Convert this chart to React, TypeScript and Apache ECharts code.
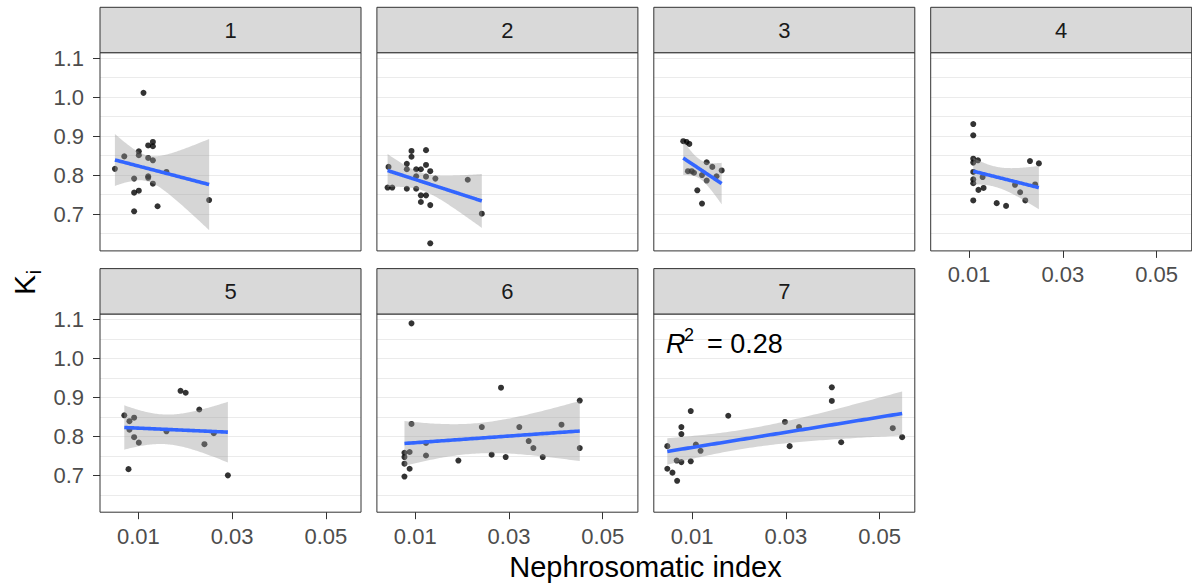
import React, { useEffect, useRef } from "react";
import * as echarts from "echarts";

// ---------- data ----------
const panelLabels = ["1", "2", "3", "4", "5", "6", "7"];
const xTicks = [0.01, 0.03, 0.05];
const yTicks = [0.7, 0.8, 0.9, 1.0, 1.1];
const yGridLines = [0.65, 0.7, 0.75, 0.8, 0.85, 0.9, 0.95, 1.0, 1.05, 1.1];
const xTitle = "Nephrosomatic index";
const yTitleMain = "K";
const yTitleSub = "i";
const r2Value = "0.28";

const x1 = [0.0050, 0.0070, 0.0091, 0.0101, 0.0101, 0.0111, 0.0091, 0.0101, 0.0091, 0.0121, 0.0131, 0.0131, 0.0121, 0.0131, 0.0121, 0.0131, 0.0141, 0.0160, 0.0251, 0.0121];
const y1 = [0.816, 0.848, 0.791, 0.861, 0.851, 1.011, 0.755, 0.760, 0.707, 0.876, 0.885, 0.874, 0.844, 0.838, 0.797, 0.778, 0.720, 0.808, 0.736, 0.793];

const x2 = [0.0043, 0.0041, 0.0051, 0.0082, 0.0082, 0.0092, 0.0092, 0.0123, 0.0123, 0.0102, 0.0112, 0.0132, 0.0102, 0.0123, 0.0143, 0.0212, 0.0082, 0.0102, 0.0112, 0.0123, 0.0112, 0.0132, 0.0242, 0.0132];
const y2 = [0.821, 0.768, 0.768, 0.829, 0.815, 0.862, 0.847, 0.864, 0.826, 0.815, 0.815, 0.810, 0.797, 0.796, 0.791, 0.788, 0.765, 0.765, 0.748, 0.748, 0.731, 0.723, 0.701, 0.625];

const x3 = [0.0081, 0.0088, 0.0094, 0.0131, 0.0143, 0.0163, 0.0091, 0.0099, 0.0104, 0.0121, 0.0131, 0.0152, 0.0111, 0.0121];
const y3 = [0.887, 0.885, 0.880, 0.833, 0.821, 0.812, 0.810, 0.810, 0.806, 0.800, 0.786, 0.797, 0.761, 0.727];

const x4 = [0.0109, 0.0109, 0.0109, 0.0119, 0.0109, 0.0109, 0.0109, 0.0109, 0.0129, 0.0131, 0.0120, 0.0109, 0.0159, 0.0179, 0.0198, 0.0209, 0.0220, 0.0230, 0.0249, 0.0241];
const y4 = [0.931, 0.902, 0.842, 0.838, 0.832, 0.808, 0.789, 0.779, 0.795, 0.767, 0.762, 0.735, 0.728, 0.721, 0.775, 0.756, 0.735, 0.836, 0.830, 0.776];

const x5 = [0.0070, 0.0081, 0.0091, 0.0081, 0.0091, 0.0101, 0.0079, 0.0160, 0.0190, 0.0201, 0.0230, 0.0241, 0.0261, 0.0291];
const y5 = [0.854, 0.839, 0.848, 0.817, 0.798, 0.784, 0.716, 0.813, 0.917, 0.912, 0.869, 0.780, 0.808, 0.700];

const x6 = [0.0092, 0.0283, 0.0451, 0.0092, 0.0242, 0.0322, 0.0412, 0.0342, 0.0352, 0.0451, 0.0077, 0.0088, 0.0077, 0.0077, 0.0088, 0.0077, 0.0123, 0.0123, 0.0192, 0.0263, 0.0293, 0.0372];
const y6 = [1.090, 0.925, 0.892, 0.832, 0.824, 0.824, 0.830, 0.788, 0.770, 0.770, 0.758, 0.760, 0.747, 0.730, 0.717, 0.697, 0.751, 0.783, 0.738, 0.753, 0.747, 0.747];

const x7 = [0.0047, 0.0047, 0.0058, 0.0068, 0.0067, 0.0077, 0.0077, 0.0077, 0.0097, 0.0097, 0.0108, 0.0118, 0.0177, 0.0298, 0.0308, 0.0328, 0.0398, 0.0398, 0.0418, 0.0528, 0.0548];
const y7 = [0.775, 0.717, 0.707, 0.686, 0.738, 0.734, 0.824, 0.806, 0.865, 0.736, 0.779, 0.763, 0.853, 0.837, 0.775, 0.824, 0.926, 0.891, 0.785, 0.821, 0.798];

const panelXs = [x1, x2, x3, x4, x5, x6, x7];
const panelYs = [y1, y2, y3, y4, y5, y6, y7];

// ---------- layout ----------
const colLeft = [100, 376.9, 653.8, 930.7];
const rowTop = [52.7, 314];
const panelW = 261;
const panelH = 198.2;
const stripH = 45.4;
const X_MIN = 0.00182;
const X_MAX = 0.0575;
const Y_MIN = 0.6055;
const Y_MAX = 1.114;
const FONT = "'Liberation Sans', Arial, Helvetica, sans-serif";

// t quantile (0.975) via Cornish-Fisher expansion
function tQuantile975(df: number): number {
  const z = 1.959964;
  const g1 = (z ** 3 + z) / 4;
  const g2 = (5 * z ** 5 + 16 * z ** 3 + 3 * z) / 96;
  const g3 = (3 * z ** 7 + 19 * z ** 5 + 17 * z ** 3 - 15 * z) / 384;
  const g4 = (79 * z ** 9 + 776 * z ** 7 + 1482 * z ** 5 - 1920 * z ** 3 - 945 * z) / 92160;
  return z + g1 / df + g2 / df ** 2 + g3 / df ** 3 + g4 / df ** 4;
}

// linear model fit with 95% confidence band (like geom_smooth(method = "lm"))
function lmFit(xs: number[], ys: number[]) {
  const n = xs.length;
  const mx = xs.reduce((a, b) => a + b, 0) / n;
  const my = ys.reduce((a, b) => a + b, 0) / n;
  let sxx = 0, sxy = 0;
  for (let i = 0; i < n; i++) {
    sxx += (xs[i] - mx) ** 2;
    sxy += (xs[i] - mx) * (ys[i] - my);
  }
  const b = sxy / sxx;
  const a = my - b * mx;
  let ssr = 0;
  for (let i = 0; i < n; i++) ssr += (ys[i] - a - b * xs[i]) ** 2;
  const s = Math.sqrt(ssr / (n - 2));
  const t = tQuantile975(n - 2);
  const xmin = Math.min(...xs);
  const xmax = Math.max(...xs);
  const steps = 80;
  const band: number[][] = [];
  const line: number[][] = [];
  for (let k = 0; k <= steps; k++) {
    const x = xmin + ((xmax - xmin) * k) / steps;
    const yh = a + b * x;
    const se = s * Math.sqrt(1 / n + (x - mx) ** 2 / sxx);
    band.push([x, yh - t * se, yh + t * se]);
    line.push([x, yh]);
  }
  return { band, line };
}

function buildOption() {
  const grid: any[] = [];
  const xAxis: any[] = [];
  const yAxis: any[] = [];
  const series: any[] = [];
  const graphic: any[] = [];

  for (let i = 0; i < 7; i++) {
    const row = i < 4 ? 0 : 1;
    const col = i < 4 ? i : i - 4;
    const left = colLeft[col];
    const top = rowTop[row];
    const showX = i >= 3;
    const showY = col === 0;

    grid.push({ left, top, width: panelW, height: panelH, show: false, containLabel: false, outerBoundsMode: "none" });

    xAxis.push({
      type: "value",
      gridIndex: i,
      min: X_MIN,
      max: X_MAX,
      axisLine: { show: false },
      splitLine: { show: false },
      axisTick: {
        show: showX,
        customValues: xTicks,
        length: 7,
        lineStyle: { color: "#333333", width: 1 },
      },
      axisLabel: {
        show: showX,
        customValues: xTicks,
        formatter: (v: number) => v.toFixed(2),
        fontSize: 22,
        fontFamily: FONT,
        color: "#4d4d4d",
        margin: 13,
      },
    });

    yAxis.push({
      type: "value",
      gridIndex: i,
      min: Y_MIN,
      max: Y_MAX,
      axisLine: { show: false },
      splitLine: { show: false },
      axisTick: {
        show: showY,
        customValues: yTicks,
        length: 7,
        lineStyle: { color: "#333333", width: 1 },
      },
      axisLabel: {
        show: showY,
        customValues: yTicks,
        formatter: (v: number) => v.toFixed(1),
        fontSize: 22,
        fontFamily: FONT,
        color: "#4d4d4d",
        margin: 16,
      },
    });

    // grid lines through the y scale
    series.push({
      type: "line",
      xAxisIndex: i,
      yAxisIndex: i,
      data: [[X_MIN, Y_MIN]],
      showSymbol: false,
      symbol: "none",
      lineStyle: { width: 0 },
      silent: true,
      z: 1,
      markLine: {
        z: 1,
        silent: true,
        symbol: ["none", "none"],
        label: { show: false },
        lineStyle: { color: "#ebebeb", width: 1, type: "solid" },
        emphasis: { disabled: true },
        data: yGridLines.map((v) => ({ yAxis: v })),
      },
    });

    const xs = panelXs[i];
    const ys = panelYs[i];
    series.push({
      type: "scatter",
      xAxisIndex: i,
      yAxisIndex: i,
      data: xs.map((x, k) => [x, ys[k]]),
      symbolSize: 6,
      itemStyle: { color: "#000000" },
      silent: true,
      z: 2,
    });

    const fit = lmFit(xs, ys);
    series.push({
      type: "custom",
      xAxisIndex: i,
      yAxisIndex: i,
      data: fit.band,
      encode: { x: 0, y: [1, 2] },
      silent: true,
      z: 3,
      renderItem: (params: any, api: any) => {
        if (params.dataIndex !== 0) return null;
        const pts: number[][] = [];
        for (const d of fit.band) pts.push(api.coord([d[0], d[2]]));
        for (let k = fit.band.length - 1; k >= 0; k--) pts.push(api.coord([fit.band[k][0], fit.band[k][1]]));
        return {
          type: "polygon",
          shape: { points: pts },
          style: { fill: "rgba(153,153,153,0.4)" },
        };
      },
    });

    series.push({
      type: "line",
      xAxisIndex: i,
      yAxisIndex: i,
      data: fit.line,
      showSymbol: false,
      symbol: "none",
      lineStyle: { color: "#3366FF", width: 3.6 },
      silent: true,
      z: 4,
    });

    // panel border
    graphic.push({
      type: "rect",
      shape: { x: left, y: top, width: panelW, height: panelH },
      style: { fill: "none", stroke: "#333333", lineWidth: 1 },
      z: 10,
      silent: true,
    });
    // strip
    graphic.push({
      type: "rect",
      shape: { x: left, y: top - stripH, width: panelW, height: stripH },
      style: { fill: "#d9d9d9", stroke: "#333333", lineWidth: 1 },
      z: 10,
      silent: true,
    });
    graphic.push({
      type: "text",
      x: left + panelW / 2,
      y: top - stripH / 2,
      style: {
        text: panelLabels[i],
        fontSize: 22,
        fontFamily: FONT,
        fill: "#1a1a1a",
        align: "center",
        verticalAlign: "middle",
      },
      z: 11,
      silent: true,
    });
  }

  // x axis title
  graphic.push({
    type: "text",
    x: 645.5,
    y: 567,
    style: { text: xTitle, fontSize: 29, fontFamily: FONT, fill: "#000000", align: "center", verticalAlign: "middle" },
    silent: true,
  });
  // y axis title K_i
  graphic.push({
    type: "text",
    x: 24,
    y: 285,
    rotation: Math.PI / 2,
    style: { text: yTitleMain, fontSize: 30, fontFamily: FONT, fill: "#000000", align: "center", verticalAlign: "middle" },
    silent: true,
  });
  graphic.push({
    type: "text",
    x: 34,
    y: 272,
    rotation: Math.PI / 2,
    style: { text: yTitleSub, fontSize: 20, fontFamily: FONT, fill: "#000000", align: "center", verticalAlign: "middle" },
    silent: true,
  });
  // R^2 annotation in panel 7
  graphic.push({
    type: "text",
    x: 666,
    y: 344,
    style: { text: "R", fontSize: 27, fontStyle: "italic", fontFamily: FONT, fill: "#000000", align: "left", verticalAlign: "middle" },
    z: 12,
    silent: true,
  });
  graphic.push({
    type: "text",
    x: 684,
    y: 335,
    style: { text: "2", fontSize: 18, fontFamily: FONT, fill: "#000000", align: "left", verticalAlign: "middle" },
    z: 12,
    silent: true,
  });
  graphic.push({
    type: "text",
    x: 707,
    y: 344,
    style: { text: "= " + r2Value, fontSize: 27, fontFamily: FONT, fill: "#000000", align: "left", verticalAlign: "middle" },
    z: 12,
    silent: true,
  });

  return {
    animation: false,
    backgroundColor: "#ffffff",
    grid,
    xAxis,
    yAxis,
    series,
    graphic,
  };
}

export default function App() {
  const ref = useRef<HTMLDivElement>(null);
  useEffect(() => {
    if (!ref.current) return;
    const chart = echarts.init(ref.current, undefined, { renderer: "svg" });
    chart.setOption(buildOption() as any);
    return () => chart.dispose();
  }, []);
  return (
    <div
      ref={ref}
      style={{ position: "absolute", left: 0, top: 0, width: 1192, height: 587 }}
    />
  );
}
